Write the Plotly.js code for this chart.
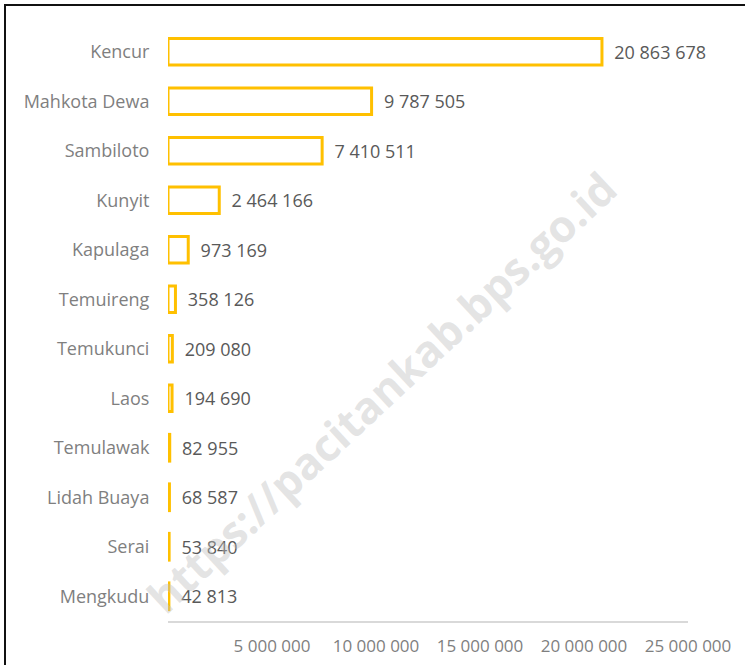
<!DOCTYPE html>
<html>
<head>
<meta charset="utf-8">
<script src="https://cdn.plot.ly/plotly-3.0.1.min.js"></script>
<style>
  html, body { margin: 0; padding: 0; background: #fff; overflow: hidden; }
  #frame { position: absolute; left: 4px; top: 4px; width: 760px; height: 700px;
           border-top: 2px solid #111; border-left: 2px solid #111; box-sizing: border-box; }
  #chart { position: absolute; left: 0; top: 0; width: 745px; height: 665px; }
</style>
</head>
<body>
<div id="chart"></div>
<div id="frame"></div>
<script>
const categories = ["Kencur", "Mahkota Dewa", "Sambiloto", "Kunyit", "Kapulaga", "Temuireng",
                    "Temukunci", "Laos", "Temulawak", "Lidah Buaya", "Serai", "Mengkudu"];
const values = [20863678, 9787505, 7410511, 2464166, 973169, 358126,
                209080, 194690, 82955, 68587, 53840, 42813];
const tickValues = [5000000, 10000000, 15000000, 20000000, 25000000];
const watermark = "https://pacitankab.bps.go.id";

const trace = {
  type: "bar",
  orientation: "h",
  y: categories,
  x: values,
  width: 0.54,
  marker: { color: "rgba(255,255,255,0)", line: { color: "#FFC000", width: 3 } },
  texttemplate: "\u00a0\u00a0%{x:,}",
  textposition: "outside",
  cliponaxis: false,
  textfont: { family: "Open Sans, sans-serif", size: 18, color: "#595959" },
  hoverinfo: "skip"
};

const layout = {
  width: 745, height: 665,
  margin: { l: 168, r: 57, t: 27, b: 44, autoexpand: false },
  paper_bgcolor: "#fff", plot_bgcolor: "#fff",
  separators: ". ",
  showlegend: false,
  font: { family: "Open Sans, sans-serif", color: "#7f7f7f" },
  xaxis: {
    range: [0, 25000000], tickvals: tickValues, tickformat: ",",
    showgrid: false, zeroline: false, showline: true, linecolor: "#d9d9d9", linewidth: 1.5,
    ticks: "outside", ticklen: 9, tickcolor: "rgba(0,0,0,0)",
    tickfont: { family: "Open Sans, sans-serif", size: 17, color: "#7f7f7f" }
  },
  yaxis: {
    autorange: "reversed", showgrid: false, zeroline: false, showline: false,
    ticks: "outside", ticklen: 14, tickcolor: "rgba(0,0,0,0)",
    tickfont: { family: "Open Sans, sans-serif", size: 18, color: "#7f7f7f" }
  },
  annotations: [{
    text: watermark, xref: "paper", yref: "paper", x: 0.41, y: 0.385,
    showarrow: false, textangle: -43,
    font: { family: "Open Sans, sans-serif", size: 44, color: "rgba(190,190,190,0.42)", weight: "bold" }
  }]
};

Plotly.newPlot("chart", [trace], layout, { displayModeBar: false, staticPlot: true });
</script>
</body>
</html>
